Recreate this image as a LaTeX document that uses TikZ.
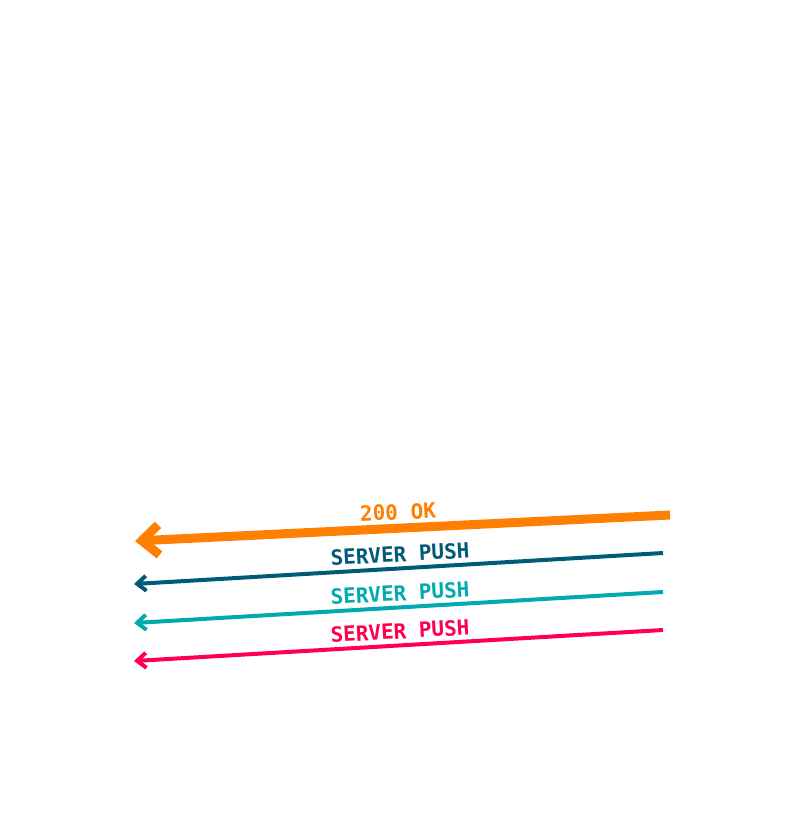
\documentclass[tikz,border=0pt]{standalone}
\usepackage{fontspec}
\setmonofont{DejaVu Sans Mono}
\usetikzlibrary{arrows.meta}
\definecolor{corange}{HTML}{FF8000}
\definecolor{cdark}{HTML}{005A78}
\definecolor{cteal}{HTML}{00ABAF}
\definecolor{cpink}{HTML}{FF0050}
\tikzset{
  thick arrow/.style={line width=9pt, -{Straight Barb[length=17pt,width=30pt]}},
  thin arrow/.style={line width=4pt, -{Straight Barb[length=9pt,width=15pt]}},
  lbl/.style={font=\ttfamily\bfseries\fontsize{21pt}{21pt}\selectfont, inner sep=0pt, anchor=center}
}
\begin{document}
\begin{tikzpicture}[x=1pt,y=-1pt]
\useasboundingbox (0,0) rectangle (800,821);
\coordinate (o1) at (670,515);
\coordinate (o2) at (135,541);
\coordinate (d1) at (663,553);
\coordinate (d2) at (134,584);
\coordinate (t1) at (663,592);
\coordinate (t2) at (134,623);
\coordinate (p1) at (663,630);
\coordinate (p2) at (134,661);
\draw[thick arrow, corange] (o1) -- (o2);
\draw[thin arrow, cdark] (d1) -- (d2);
\draw[thin arrow, cteal] (t1) -- (t2);
\draw[thin arrow, cpink] (p1) -- (p2);
\node[lbl, text=corange, rotate=2.8] (l1) at (398,512) {200 OK};
\node[lbl, text=cdark, rotate=3.3] (l2) at (400,554) {SERVER PUSH};
\node[lbl, text=cteal, rotate=3.3] (l3) at (400,593) {SERVER PUSH};
\node[lbl, text=cpink, rotate=3.3] (l4) at (400,631) {SERVER PUSH};
\end{tikzpicture}
\end{document}
